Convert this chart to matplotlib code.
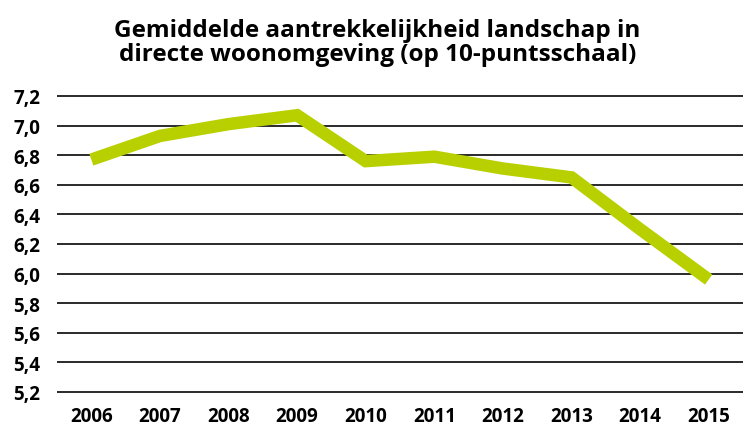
import matplotlib
matplotlib.use('Agg')
import matplotlib.pyplot as plt

years = ['2006', '2007', '2008', '2009', '2010', '2011', '2012', '2013', '2014', '2015']
score = [6.77, 6.93, 7.01, 7.07, 6.76, 6.79, 6.71, 6.65, 6.30, 5.96]
yticks = [5.2, 5.4, 5.6, 5.8, 6.0, 6.2, 6.4, 6.6, 6.8, 7.0, 7.2]
ylabels = [f'{v:.1f}'.replace('.', ',') for v in yticks]

plt.rcParams['font.family'] = ['Open Sans', 'DejaVu Sans']

fig = plt.figure(figsize=(7.43, 4.27), dpi=100)
ax = fig.add_axes([57 / 743, 1 - 395 / 427, 1 - 57 / 743, (395 - 95) / 427])

ax.plot(range(len(years)), score, color='#b8d000', lw=9,
        solid_capstyle='butt', solid_joinstyle='miter', zorder=3)

ax.set_xlim(-0.5, 9.5)
ax.set_ylim(5.2 - 0.2 * 2 / 29.6, 7.2 + 0.2 * 2 / 29.6)
ax.set_yticks(yticks)
ax.set_yticklabels(ylabels, fontsize=13.5, fontweight='bold')
ax.set_xticks(range(len(years)))
ax.set_xticklabels(years, fontsize=13.5, fontweight='bold')
ax.tick_params(axis='y', length=0, pad=12)
ax.tick_params(axis='x', length=0, pad=9)
ax.grid(axis='y', color='#2a2a2a', lw=1.4)
ax.set_axisbelow(True)
for s in ax.spines.values():
    s.set_visible(False)

fig.text(0.508, 1 - 43 / 427, 'Gemiddelde aantrekkelijkheid landschap in\ndirecte woonomgeving (op 10-puntsschaal)',
         ha='center', va='center', fontsize=17.5, fontweight='bold', linespacing=1.0)

fig.savefig('out.png', dpi=100)
